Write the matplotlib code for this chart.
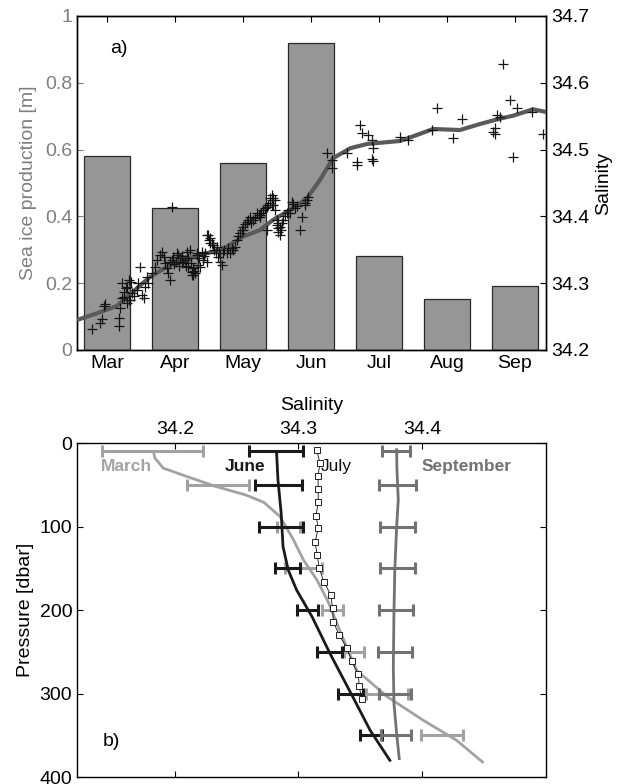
import numpy as np
import matplotlib
matplotlib.use("Agg")
import matplotlib.pyplot as plt

plt.rcParams['font.family'] = ['Liberation Sans', 'DejaVu Sans']

# ---------------- panel a data ----------------
months = ['Mar', 'Apr', 'May', 'Jun', 'Jul', 'Aug', 'Sep']
ice_production = [0.581, 0.425, 0.561, 0.918, 0.281, 0.154, 0.193]

# salinity observations (time in month index, salinity)
obs_time = [0.779, 0.901, 0.926, 0.951, 0.975, 1.172, 1.172, 1.196, 1.221, 1.246, 1.221, 1.319, 1.319, 1.294,
            1.368, 1.441, 1.490, 1.515, 1.540, 1.563, 1.588, 1.662, 1.710, 1.735, 1.784, 1.809, 1.834, 1.857,
            1.279, 1.397, 1.353, 1.25, 1.30, 1.34, 1.45, 1.60,
            1.878, 1.901, 1.926, 1.951, 1.975, 2.025, 2.074, 2.099, 2.172, 2.196, 2.246, 2.269, 2.221, 2.319,
            2.368, 2.416, 2.466, 1.926, 2.015, 2.118, 2.191, 2.338, 2.393, 2.319, 2.559, 2.632, 2.662, 2.706,
            2.809, 2.834, 2.882, 2.490, 2.515, 2.563, 2.466, 2.540, 2.613, 2.687, 2.760,
            1.95, 1.99, 2.05, 2.06, 2.10, 2.14, 2.16, 2.23, 2.26, 2.28, 2.30, 2.25, 2.35, 2.42, 2.44,
            2.50, 2.52, 2.58, 2.60, 2.65, 2.72, 2.78, 2.85,
            2.907, 2.956, 3.004, 3.054, 3.103, 3.151, 3.201, 3.250, 3.299, 3.349, 3.397, 3.422, 3.446, 3.422,
            3.446, 3.471, 3.496, 3.544, 3.593, 3.643, 3.716, 3.765, 3.838, 3.863, 3.912, 3.004, 3.349, 3.496,
            3.519, 3.544, 3.691, 3.960, 3.250, 3.519,
            2.93, 2.98, 3.03, 3.08, 3.12, 3.18, 3.23, 3.27, 3.32, 3.37, 3.40, 3.43, 3.47, 3.52, 3.56, 3.58,
            3.62, 3.66, 3.74, 3.80,
            3.937, 3.912, 4.231, 4.304, 4.304, 4.525, 4.672, 4.672, 4.721, 4.746, 4.843, 4.893, 4.916, 4.893,
            4.916, 5.309, 5.431, 5.775, 5.849, 6.088, 6.221, 6.681, 6.706, 6.731, 6.779, 6.828, 6.926, 7.025,
            6.975, 7.246, 7.416, 6.699]
obs_sal = [34.2314, 34.2409, 34.2460, 34.2659, 34.2689, 34.2364, 34.2475, 34.2624, 34.2774, 34.2873, 34.2999,
           34.3048, 34.2749, 34.2699, 34.2849, 34.2898, 34.3238, 34.2823, 34.2774, 34.2948, 34.3097, 34.3148,
           34.3247, 34.3347, 34.3422, 34.3472, 34.3397, 34.3298, 34.2928, 34.2808, 34.3018,
           34.280, 34.295, 34.275, 34.300, 34.300,
           34.3223, 34.3148, 34.3048, 34.4145, 34.3397, 34.3448, 34.3373, 34.3298, 34.3472, 34.3247, 34.3172,
           34.3123, 34.3497, 34.3422, 34.3247, 34.3347, 34.3322, 34.3317, 34.3317, 34.3322, 34.3377, 34.3272,
           34.3472, 34.3448, 34.3572, 34.3397, 34.3322, 34.3452, 34.3448, 34.3522, 34.3546, 34.3722, 34.3597,
           34.3572, 34.3722, 34.3597, 34.3546, 34.3272, 34.3448,
           34.335, 34.328, 34.342, 34.325, 34.340, 34.335, 34.325, 34.330, 34.322, 34.318, 34.315, 34.312,
           34.338, 34.340, 34.345,
           34.365, 34.368, 34.350, 34.345, 34.345, 34.350, 34.352, 34.350,
           34.3647, 34.3747, 34.3846, 34.3921, 34.3996, 34.3946, 34.4046, 34.3996, 34.4096, 34.4145, 34.4196,
           34.4246, 34.4271, 34.4171, 34.4171, 34.4096, 34.3946, 34.3846, 34.3946, 34.4046, 34.4220, 34.4121,
           34.3796, 34.3996, 34.4196, 34.3790, 34.3790, 34.3871, 34.3771, 34.3722, 34.4046, 34.4295, 34.4022,
           34.3822,
           34.370, 34.380, 34.388, 34.395, 34.390, 34.398, 34.402, 34.405, 34.412, 34.417, 34.428, 34.432,
           34.425, 34.390, 34.380, 34.390, 34.400, 34.410, 34.418, 34.415,
           34.4246, 34.4171, 34.4945, 34.4844, 34.4720, 34.4945, 34.4819, 34.4769, 34.5368, 34.5244, 34.5219,
           34.5144, 34.5019, 34.4855, 34.4834, 34.5184, 34.5144, 34.5286, 34.5618, 34.5169, 34.5455, 34.5263,
           34.5234, 34.5518, 34.5493, 34.6278, 34.5743, 34.5630, 34.4889, 34.5563, 34.5226, 34.5323]

# smoothed salinity
smooth_time = [0.559, 0.853, 1.147, 1.294, 1.441, 1.632, 1.882, 2.074, 2.368, 2.559, 2.765, 3.000, 3.250,
               3.441, 3.691, 3.941, 4.132, 4.324, 4.574, 4.824, 5.309, 5.559, 5.794, 6.191, 6.485, 6.779,
               6.971, 7.265, 7.456]
smooth_sal = [34.2449, 34.2549, 34.2659, 34.2798, 34.2924, 34.3093, 34.3243, 34.3322, 34.3422, 34.3472,
              34.3546, 34.3696, 34.3796, 34.3946, 34.4096, 34.4271, 34.4545, 34.4870, 34.5019, 34.5084,
              34.5129, 34.5219, 34.5308, 34.5293, 34.5383, 34.5463, 34.5507, 34.5603, 34.5563]

# ---------------- panel b data ----------------
march_p = [10, 18, 30, 40, 52, 62, 71, 88, 116, 140, 164, 190, 230, 272, 304, 332, 356, 382]
march_s = [34.1825, 34.1838, 34.1905, 34.2095, 34.233, 34.257, 34.272, 34.285, 34.296, 34.304, 34.315,
           34.324, 34.335, 34.347, 34.372, 34.401, 34.428, 34.449]
june_p = [12, 44, 84, 124, 152, 176, 208, 252, 304, 344, 380]
june_s = [34.2823, 34.2834, 34.286, 34.2875, 34.2917, 34.2985, 34.311, 34.3255, 34.344, 34.358, 34.374]
july_p = [8, 24, 40, 55, 71, 87, 102, 119, 134, 150, 166, 182, 198, 214, 230, 245, 261, 277, 291, 307]
july_s = [34.3147, 34.3174, 34.3158, 34.316, 34.316, 34.3142, 34.316, 34.3134, 34.3152, 34.3168, 34.3206,
          34.3261, 34.3277, 34.3282, 34.333, 34.339, 34.3431, 34.3484, 34.3492, 34.3512]
sept_p = [8, 30, 68, 100, 152, 204, 268, 312, 348, 378]
sept_s = [34.3795, 34.3797, 34.3808, 34.3795, 34.378, 34.3773, 34.3768, 34.3773, 34.3795, 34.3816]

err_p = [10, 50, 100, 150, 200, 250, 300, 350]
march_err_c = [34.182, 34.235, 34.292, 34.304, 34.3275, 34.345, 34.372, 34.416]
march_err_w = [0.041, 0.025, 0.009, 0.015, 0.0085, 0.008, 0.017, 0.017]
june_err_c = [34.282, 34.284, 34.286, 34.291, 34.307, 34.325, 34.342, 34.359]
june_err_w = [0.022, 0.019, 0.018, 0.010, 0.0085, 0.010, 0.010, 0.009]
sept_err_c = [34.379, 34.380, 34.380, 34.380, 34.379, 34.378, 34.378, 34.379]
sept_err_w = [0.011, 0.015, 0.014, 0.014, 0.014, 0.014, 0.013, 0.012]

# ---------------- figure ----------------
fig = plt.figure(figsize=(6.27, 7.84), dpi=100)
FS = 14
GRAY_LBL = '#7f7f7f'

ax = fig.add_axes([0.1228, 0.5536, 0.7480, 0.4260])
xpos = np.arange(1, len(months) + 1)
ax.bar(xpos, ice_production, width=0.68, color='#969696', edgecolor='#2a2a2a', linewidth=0.9, zorder=2)
ax.set_xlim(0.559, 7.456)
ax.set_ylim(0, 1)
ax.set_xticks(xpos)
ax.set_xticklabels(months, fontsize=FS)
ax.set_yticks([0, 0.2, 0.4, 0.6, 0.8, 1.0])
ax.set_yticklabels(['0', '0.2', '0.4', '0.6', '0.8', '1'], fontsize=FS, color=GRAY_LBL)
ax.tick_params(direction='in', length=4, top=True, width=0.8)
ax.tick_params(axis='y', colors=GRAY_LBL, labelcolor=GRAY_LBL)
ax.set_ylabel('Sea ice production [m]', fontsize=FS, color=GRAY_LBL, labelpad=6)
ax.text(0.07, 0.89, 'a)', transform=ax.transAxes, fontsize=FS)

ax2 = ax.twinx()
ax2.set_ylim(34.2, 34.7)
ax2.set_yticks([34.2, 34.3, 34.4, 34.5, 34.6, 34.7])
ax2.set_yticklabels(['34.2', '34.3', '34.4', '34.5', '34.6', '34.7'], fontsize=FS)
ax2.tick_params(direction='in', length=4, width=0.8)
ax2.set_ylabel('Salinity', fontsize=FS, labelpad=4)
ax2.plot(smooth_time, smooth_sal, color='#5a5a5a', lw=3.0, solid_capstyle='butt', zorder=3)
ax2.plot(obs_time, obs_sal, '+', color='#151515', ms=7, mew=0.9, zorder=4)
for a in (ax, ax2):
    for s in a.spines.values():
        s.set_linewidth(1.0)

# panel b
bx = fig.add_axes([0.1228, 0.0089, 0.7480, 0.4260])
C_MAR, C_JUN, C_SEP = '#a2a2a2', '#1a1a1a', '#727272'
eb_kw = dict(fmt='none', elinewidth=2.2, capsize=4.5, capthick=2.2)
bx.plot(march_s, march_p, color=C_MAR, lw=2.0, zorder=2)
bx.errorbar(march_err_c, err_p, xerr=march_err_w, ecolor=C_MAR, zorder=2, **eb_kw)
bx.plot(june_s, june_p, color=C_JUN, lw=2.0, zorder=3)
bx.errorbar(june_err_c, err_p, xerr=june_err_w, ecolor=C_JUN, zorder=3, **eb_kw)
bx.plot(sept_s, sept_p, color=C_SEP, lw=2.0, zorder=3)
bx.errorbar(sept_err_c, err_p, xerr=sept_err_w, ecolor=C_SEP, zorder=3, **eb_kw)
bx.plot(july_s, july_p, '-s', color='#111111', lw=0.6, ms=5, mfc='white', mec='#222222', mew=0.7, zorder=4)

bx.set_xlim(34.1207, 34.5004)
bx.set_ylim(400, 0)
bx.set_xticks([34.2, 34.3, 34.4])
bx.set_xticklabels(['34.2', '34.3', '34.4'], fontsize=FS)
bx.xaxis.set_label_position('top')
bx.xaxis.tick_top()
bx.set_xlabel('Salinity', fontsize=FS, labelpad=8)
bx.set_yticks([0, 100, 200, 300, 400])
bx.set_yticklabels(['0', '100', '200', '300', '400'], fontsize=FS)
bx.set_ylabel('Pressure [dbar]', fontsize=FS, labelpad=4)
bx.tick_params(direction='in', length=4, width=0.8, top=True, bottom=True, right=True, left=True,
               labeltop=True, labelbottom=False)
for s in bx.spines.values():
    s.set_linewidth(1.0)

bx.text(34.140, 28, 'March', color=C_MAR, fontsize=12.5, fontweight='bold', va='center')
bx.text(34.240, 28, 'June', color=C_JUN, fontsize=12.5, fontweight='bold', va='center')
bx.text(34.318, 28, 'July', color='#111111', fontsize=12.5, va='center')
bx.text(34.400, 28, 'September', color=C_SEP, fontsize=12.5, fontweight='bold', va='center')
bx.text(0.055, 0.105, 'b)', transform=bx.transAxes, fontsize=FS, va='center')

fig.savefig('out.png', dpi=100)
